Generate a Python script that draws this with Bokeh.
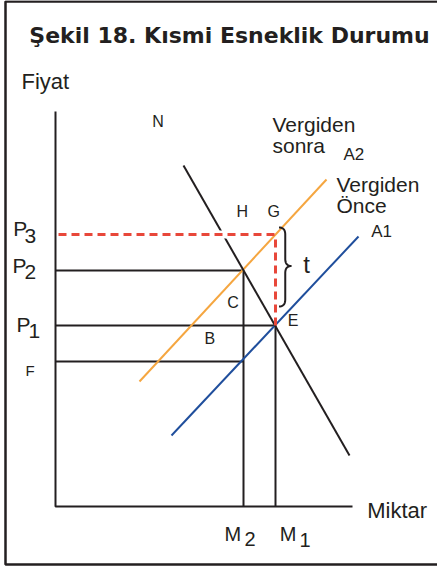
import numpy as np
from bokeh.plotting import figure
from bokeh.models import Range1d
from bokeh.core.properties import value
from bokeh.embed import file_html
from bokeh.resources import INLINE

# ---- chart values (quantity on x, price on y; origin at the axes corner) ----
quantity_axis_max = 29.7
price_axis_max = 39.5

quantity_names = ["M2", "M1"]
quantity_values = [18.8, 22.0]

price_names = ["F", "P1", "P2", "P3"]
price_values = [14.5, 18.1, 23.6, 27.2]

demand_N_q = [12.8, 29.4]
demand_N_p = [34.1, 5.1]
supply_A1_q = [11.6, 30.3]
supply_A1_p = [7.1, 27.0]
supply_A2_q = [8.4, 27.1]
supply_A2_p = [12.5, 32.7]

tax_brace_top = 27.9
tax_brace_bottom = 20.0

q = dict(zip(quantity_names, quantity_values))
pr = dict(zip(price_names, price_values))

BLACK = "#231f20"
ORANGE = "#f5a640"
BLUE = "#1f4e9c"
RED = "#e8473a"
FONT = value("Liberation Sans")

p = figure(width=437, height=567, x_range=Range1d(-5.5, 38.2), y_range=Range1d(-6.1, 50.6),
           output_backend="svg", toolbar_location=None, min_border=0,
           x_axis_type=None, y_axis_type=None, margin=(0, 0, 0, 0))
p.grid.visible = False
p.outline_line_color = None
p.background_fill_color = "white"

# outer frame
p.line([38.6, -5.0, -5.0, 38.6], [50.5, 50.5, -5.8, -5.8], line_color=BLACK, line_width=2.5)

# axes
p.line([0, 0, quantity_axis_max], [price_axis_max, 0, 0], line_color=BLACK, line_width=2)

# guide lines
p.segment(x0=[0, 0, 0, q["M2"], q["M1"]],
          y0=[pr["P2"], pr["P1"], pr["F"], 0, 0],
          x1=[q["M2"], q["M1"], q["M2"], q["M2"], q["M1"]],
          y1=[pr["P2"], pr["P1"], pr["F"], pr["P2"], pr["P1"]],
          line_color=BLACK, line_width=2)

# supply curves
p.line(supply_A2_q, supply_A2_p, line_color=ORANGE, line_width=2)
p.line(supply_A1_q, supply_A1_p, line_color=BLUE, line_width=2)

# demand curve
p.line(demand_N_q, demand_N_p, line_color=BLACK, line_width=2)

# white gap where the dashed line crosses the demand curve
slope_N = (demand_N_p[1] - demand_N_p[0]) / (demand_N_q[1] - demand_N_q[0])
qx = demand_N_q[0] + (pr["P3"] - demand_N_p[0]) / slope_N
p.segment(x0=[qx - 0.45], y0=[pr["P3"]], x1=[qx + 0.45], y1=[pr["P3"]],
          line_color="white", line_width=8)

# tax dashed lines
p.segment(x0=[0.3, q["M1"]], y0=[pr["P3"], pr["P1"]], x1=[q["M1"], q["M1"]], y1=[pr["P3"], pr["P3"]],
          line_color=RED, line_width=3, line_dash="8 5")

# curly brace for tax t
bx0 = q["M1"] + 0.35
bw = 1.25
ym = (tax_brace_top + tax_brace_bottom) / 2 + 0.1
def qbez(p0, p1, p2, n=12):
    t = np.linspace(0, 1, n)[:, None]
    P0, P1, P2 = map(np.array, (p0, p1, p2))
    return (1 - t) ** 2 * P0 + 2 * (1 - t) * t * P1 + t ** 2 * P2
xm = bx0 + bw * 0.5
r = 0.7
pts = np.vstack([
    qbez((bx0, tax_brace_top), (xm, tax_brace_top), (xm, tax_brace_top - r)),
    qbez((xm, ym + r), (xm, ym), (bx0 + bw, ym)),
    qbez((bx0 + bw, ym), (xm, ym), (xm, ym - r)),
    qbez((xm, tax_brace_bottom + r), (xm, tax_brace_bottom), (bx0, tax_brace_bottom)),
])
p.line(pts[:, 0], pts[:, 1], line_color=BLACK, line_width=2)

# ---- texts ----
def txt(x, y, s, size, **kw):
    p.text(x=[x], y=[y], text=[s], text_font=kw.pop("font", FONT), text_font_size=f"{size}px",
           text_color=BLACK, text_baseline="alphabetic", text_align=kw.pop("align", "left"),
           y_offset=-round(0.37 * size), **kw)

txt(17.4, 46.27, "Şekil 18. Kısmi Esneklik Durumu", 22, font=value("DejaVu Sans"),
    align="center", text_font_style="bold")
txt(-3.4, 41.67, "Fiyat", 22)
txt(31.17, -1.23, "Miktar", 22)

txt(9.67, 37.93, "N", 16)
txt(21.7, 37.43, "Vergiden", 21)
txt(21.7, 35.3, "sonra", 21)
txt(28.8, 34.6, "A2", 17)
txt(28.1, 31.37, "Vergiden", 21)
txt(28.1, 29.27, "Önce", 21)
txt(31.57, 26.87, "A1", 17)
txt(18.1, 28.93, "H", 16)
txt(21.2, 28.93, "G", 16)
txt(24.77, 23.27, "t", 24)
txt(17.17, 19.77, "C", 16)
txt(23.23, 18.0, "E", 16)
txt(14.9, 16.2, "B", 16)
txt(-3.0, 13.05, "F", 15)

# price labels with subscripts
txt(-4.23, 27.0, "P", 21); txt(-3.1, 26.3, "3", 21)
txt(-4.3, 23.27, "P", 21); txt(-3.1, 22.67, "2", 21)
txt(-3.9, 17.43, "P", 21); txt(-2.7, 16.77, "1", 21)
# quantity labels with subscripts
txt(q["M2"] - 1.9, -3.4, "M", 20); txt(q["M2"] + 0.1, -3.97, "2", 20)
txt(q["M1"] + 0.43, -3.4, "M", 20); txt(q["M1"] + 2.4, -4.0, "1", 20)

open("out.html", "w").write(file_html(p, INLINE))
